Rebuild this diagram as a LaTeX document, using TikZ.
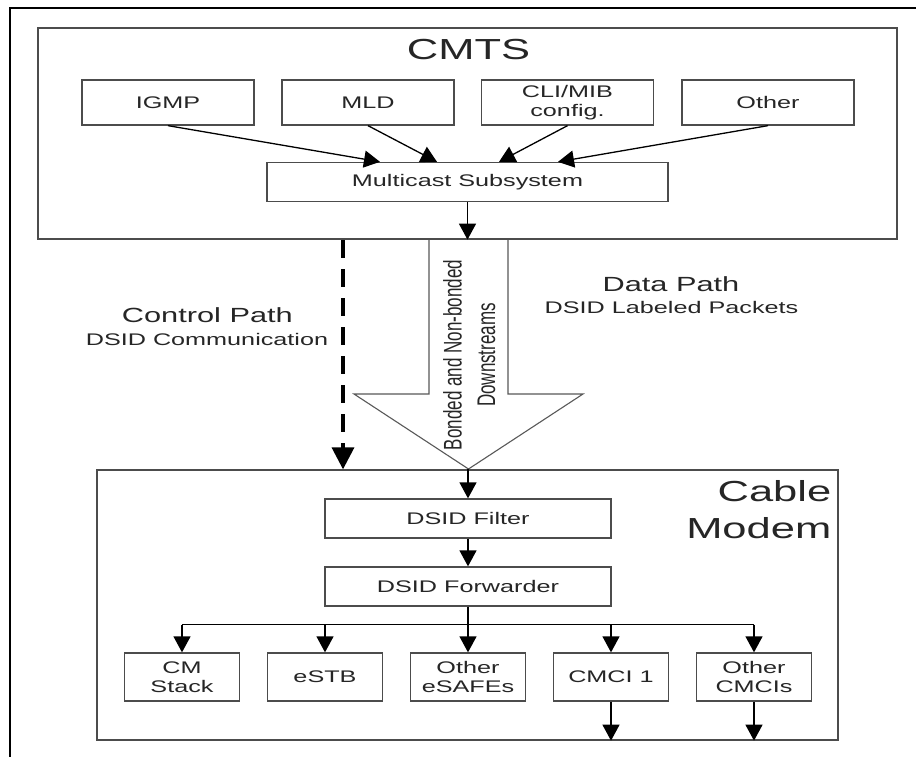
\documentclass[tikz,border=0pt]{standalone}
\usepackage{fontspec}
\setmainfont{Liberation Sans}
\usepackage{graphicx}
\usetikzlibrary{arrows.meta,calc}
\newcommand\hs[1]{\scalebox{1.5}[1]{#1}}
\newcommand\vsc[1]{\scalebox{1}[1.5]{#1}}
\tikzset{
  box/.style={draw=black!70, line width=1.3pt, fill=white, inner sep=0pt,
    font=\fontsize{16.8}{18.6}\selectfont, text=black!85, align=center},
  sbox/.style={box, minimum width=172pt, minimum height=45pt},
  cbox/.style={box, minimum width=115pt, minimum height=48pt},
  mbox/.style={box, minimum width=286pt, minimum height=39pt},
  frame/.style={draw=black!70, line width=1.3pt, inner sep=0pt},
  lbl/.style={inner sep=0pt, text=black!85},
  arr/.style={draw=black, line width=1.3pt, -{Triangle[length=16pt,width=17pt]}},
  dasharr/.style={draw=black, line width=3.5pt, dash pattern=on 18pt off 11pt,
    -{Triangle[length=22pt,width=22pt]}},
  bigarrow/.style={draw=black!65, line width=1.1pt, fill=white, line join=miter},
}
\begin{document}
\begin{tikzpicture}[x=1pt,y=-1pt]
\useasboundingbox (0,0) rectangle (916,757);
\fill[white] (0,0) rectangle (916,757);
% outer frame (partially visible)
\draw[line width=2.6pt] (10,757) -- (10,8) -- (916,8);

% CMTS
\node[frame, minimum width=859pt, minimum height=211pt] (cmts) at (467.5,133.5) {};
\node[lbl, font=\fontsize{29}{32}\selectfont, anchor=base] (cmtst) at (468.5,60) {\hs{CMTS}};

\node[sbox] (igmp) at (168,102.5) {\hs{IGMP}};
\node[sbox] (mld) at (368,102.5) {\hs{MLD}};
\node[sbox] (cli) at (567.5,102.5) {\hs{CLI/MIB}\\\hs{config.}};
\node[sbox] (oth) at (768,102.5) {\hs{Other}};
\node[box, minimum width=401pt, minimum height=39pt] (ms) at (467.5,182) {\hs{Multicast Subsystem}};

\draw[arr] (igmp.south) -- ([xshift=-87.5pt]ms.north);
\draw[arr] (mld.south) -- ([xshift=-30.5pt]ms.north);
\draw[arr] (cli.south) -- ([xshift=31.5pt]ms.north);
\draw[arr] (oth.south) -- ([xshift=90.5pt]ms.north);
\draw[arr] (ms.south) -- (ms.south |- cmts.south);

% Cable modem container
\node[frame, minimum width=741pt, minimum height=270pt] (cmbox) at (467.5,605) {};
\node[lbl, font=\fontsize{29}{32}\selectfont, anchor=base east] (cab) at (831.5,501.7) {\hs{Cable}};
\node[lbl, font=\fontsize{29}{32}\selectfont, anchor=base east] (mod) at (831.5,538.3) {\hs{Modem}};

% big data path arrow
\draw[bigarrow] (429,240) -- (429,394) -- (354,394) -- (468.5,469) -- (583,394) -- (508,394) -- (508,240);
\coordinate (tip) at (468,469);
\node[lbl, rotate=90, anchor=base, font=\fontsize{17}{20}\selectfont] (bt1) at (461.7,355) {\vsc{Bonded and Non-bonded}};
\node[lbl, rotate=90, anchor=base, font=\fontsize{17}{20}\selectfont] (bt2) at (495,355) {\vsc{Downstreams}};

% control path
\coordinate (dtop) at (343,240);
\draw[dasharr] (dtop) -- (dtop |- cmbox.north);
\node[lbl, font=\fontsize{20.5}{23}\selectfont, anchor=base] (cp) at (207.4,322.7) {\hs{Control Path}};
\node[lbl, font=\fontsize{16.8}{19}\selectfont, anchor=base] (cp2) at (207,345) {\hs{DSID Communication}};
\node[lbl, font=\fontsize{20.5}{23}\selectfont, anchor=base] (dp) at (671,291.7) {\hs{Data Path}};
\node[lbl, font=\fontsize{16.8}{19}\selectfont, anchor=base] (dp2) at (671.5,313.3) {\hs{DSID Labeled Packets}};

% inside cable modem
\node[mbox] (filt) at (468,518.5) {\hs{DSID Filter}};
\node[mbox] (fwd) at (468,586.5) {\hs{DSID Forwarder}};
\draw[arr] (tip) -- (filt.north);
\draw[arr] (filt.south) -- (fwd.north);

\node[cbox] (cms) at (182,677) {\hs{CM}\\\hs{Stack}};
\node[cbox] (estb) at (325,677) {\hs{eSTB}};
\node[cbox] (oes) at (468,677) {\hs{Other}\\\hs{eSAFEs}};
\node[cbox] (cmci) at (611,677) {\hs{CMCI 1}};
\node[cbox] (ocm) at (754,677) {\hs{Other}\\\hs{CMCIs}};

\coordinate (bus) at (468,624.5);
\draw[line width=1.3pt] (fwd.south) -- (bus);
\draw[line width=1.3pt] (cms.north |- bus) -- (ocm.north |- bus);
\foreach \n in {cms,estb,oes,cmci,ocm}{
  \draw[arr] (\n.north |- bus) -- (\n.north);
}
\draw[arr] (cmci.south) -- (cmci.south |- cmbox.south);
\draw[arr] (ocm.south) -- (ocm.south |- cmbox.south);
\end{tikzpicture}
\end{document}
